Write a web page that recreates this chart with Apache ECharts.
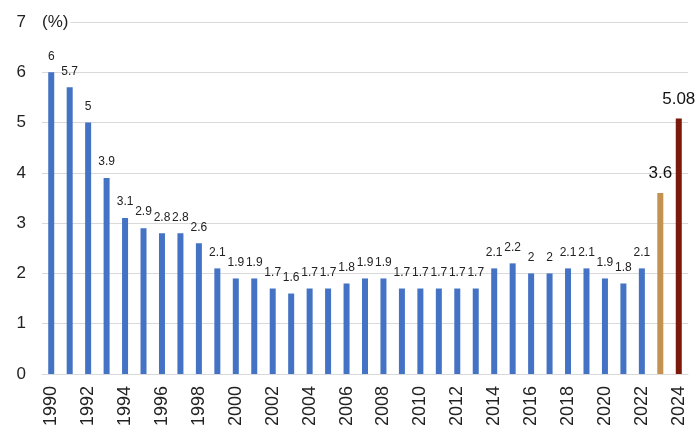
<!DOCTYPE html>
<html><head><meta charset="utf-8">
<script src="https://cdn.jsdelivr.net/npm/echarts@6/dist/echarts.min.js"></script>
<style>html,body{margin:0;padding:0;background:#fff}#c{width:700px;height:438px}</style>
</head><body><div id="c"></div>
<script>
const years = ['1990','1991','1992','1993','1994','1995','1996','1997','1998','1999','2000','2001','2002','2003','2004','2005','2006','2007','2008','2009','2010','2011','2012','2013','2014','2015','2016','2017','2018','2019','2020','2021','2022','2023','2024'];
const values = [6,5.7,5,3.9,3.1,2.9,2.8,2.8,2.6,2.1,1.9,1.9,1.7,1.6,1.7,1.7,1.8,1.9,1.9,1.7,1.7,1.7,1.7,1.7,2.1,2.2,2,2,2.1,2.1,1.9,1.8,2.1,3.6,5.08];
const yTicks = [0,1,2,3,4,5,6,7];
const colors = {normal:'#4472C4', y2023:'#C39150', y2024:'#7B1A0A'};
const FONT = 'Liberation Sans, Arial, sans-serif';

const data = values.map((v,i)=>{
  const y = years[i];
  if (y==='2023') return {value:v,itemStyle:{color:colors.y2023},label:{fontSize:17,color:'#111',distance:11}};
  if (y==='2024') return {value:v,itemStyle:{color:colors.y2024},label:{fontSize:17,color:'#111',distance:11}};
  return {value:v};
});

const chart = echarts.init(document.getElementById('c'));
chart.setOption({
  animation:false,
  grid:{left:42,right:12,top:22,bottom:64,containLabel:false,outerBoundsMode:'none'},
  xAxis:{type:'category',data:years,
    axisLine:{lineStyle:{color:'#d9d9d9'}},axisTick:{show:false},
    axisLabel:{interval:1,rotate:90,fontSize:18,color:'#222',fontFamily:FONT,margin:12}},
  yAxis:{type:'value',min:yTicks[0],max:yTicks[yTicks.length-1],interval:1,
    name:'(%)',nameLocation:'end',nameGap:0,
    nameTextStyle:{fontSize:17,color:'#222',fontFamily:FONT,align:'left',verticalAlign:'middle',backgroundColor:'#fff',padding:[0,2,0,0]},
    axisLine:{show:false},axisTick:{show:false},
    splitLine:{lineStyle:{color:'#d9d9d9'}},
    axisLabel:{fontSize:17,color:'#222',fontFamily:FONT,margin:16}},
  series:[{type:'bar',data:data,barWidth:6,itemStyle:{color:colors.normal},
    label:{show:true,position:'top',fontSize:12,color:'#222',fontFamily:FONT,distance:10}}]
});
</script></body></html>
